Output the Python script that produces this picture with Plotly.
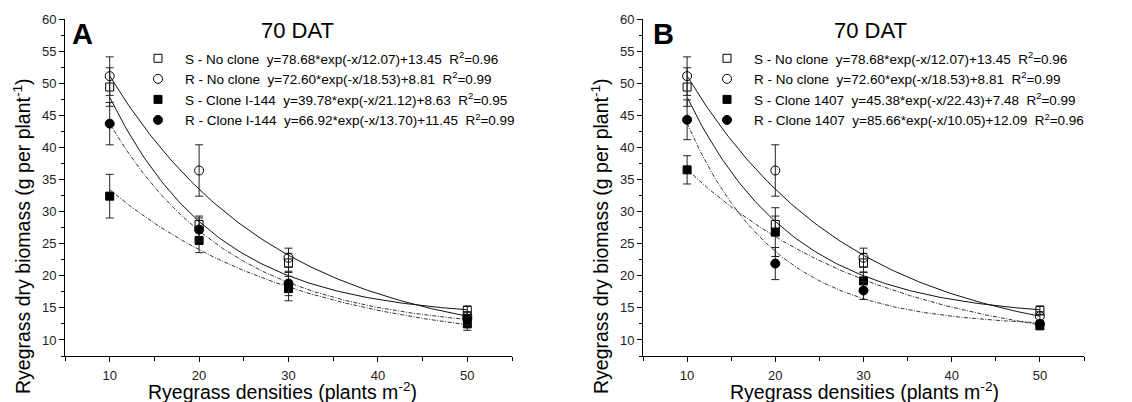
import numpy as np
import plotly.graph_objects as go

# ---------------- data ----------------
density = [10, 20, 30, 50]

# Panel A
a_names = ["S - No clone", "R - No clone", "S - Clone I-144", "R - Clone I-144"]
a_eq = ["y=78.68*exp(-x/12.07)+13.45", "y=72.60*exp(-x/18.53)+8.81",
        "y=39.78*exp(-x/21.12)+8.63", "y=66.92*exp(-x/13.70)+11.45"]
a_r2 = ["0.96", "0.99", "0.95", "0.99"]
a_A = [78.68, 72.60, 39.78, 66.92]
a_t = [12.07, 18.53, 21.12, 13.70]
a_y0 = [13.45, 8.81, 8.63, 11.45]
a_S_no = [49.4, 28.0, 22.0, 14.6]
a_R_no = [51.1, 36.4, 22.8, 13.7]
a_S_cl = [32.4, 25.5, 18.0, 12.5]
a_R_cl = [43.7, 27.2, 18.8, 13.3]
a_S_no_err = [3.0, 1.3, 1.5, 0.7]
a_R_no_err = [3.0, 4.0, 1.5, 0.7]
a_S_cl_err = [3.4, 1.9, 1.9, 1.0]
a_R_cl_err = [3.3, 1.8, 1.9, 1.0]

# Panel B
b_names = ["S - No clone", "R - No clone", "S - Clone 1407", "R - Clone 1407"]
b_eq = ["y=78.68*exp(-x/12.07)+13.45", "y=72.60*exp(-x/18.53)+8.81",
        "y=45.38*exp(-x/22.43)+7.48", "y=85.66*exp(-x/10.05)+12.09"]
b_r2 = ["0.96", "0.99", "0.99", "0.96"]
b_A = [78.68, 72.60, 45.38, 85.66]
b_t = [12.07, 18.53, 22.43, 10.05]
b_y0 = [13.45, 8.81, 7.48, 12.09]
b_S_no = [49.4, 28.0, 22.0, 14.6]
b_R_no = [51.1, 36.4, 22.8, 13.7]
b_S_cl = [36.5, 26.8, 19.2, 12.2]
b_R_cl = [44.3, 21.9, 17.7, 12.5]
b_S_no_err = [3.0, 1.3, 1.5, 0.7]
b_R_no_err = [3.0, 4.0, 1.5, 0.7]
b_S_cl_err = [2.2, 3.8, 1.4, 0.5]
b_R_cl_err = [3.1, 2.5, 1.4, 0.5]

FONT = "Arial, Liberation Sans, sans-serif"
OFF = 8                     # default page body margin
W, H = 1132 - OFF, 402 - OFF
TOP, BOT = 19, 356          # plot area in reference pixels


def xp(px):
    return (px - OFF) / W


def yp(py):
    return (BOT - py) / (BOT - TOP)


fig = go.Figure()

symbols = ["square-open", "circle-open", "square", "circle"]
sizes = [8, 9, 8, 9]
line_dash = ["solid", "solid", "4px,1.5px,1px,1.5px", "4px,1.5px,1px,1.5px"]
line_col = ["#111", "#111", "#333", "#333"]

xfit = np.linspace(10, 50, 120)


def add_panel(xa, ya, leg, names, eqs, r2s, amps, taus, offs, ys, errs):
    # fitted curves (from the equations shown in the legend)
    for i in range(4):
        yfit = amps[i] * np.exp(-xfit / taus[i]) + offs[i]
        fig.add_trace(go.Scatter(x=xfit, y=yfit, mode="lines", xaxis=xa, yaxis=ya,
                                 line=dict(color=line_col[i], width=1, dash=line_dash[i]),
                                 showlegend=False, hoverinfo="skip"))
    for i in range(4):
        label = f"{names[i]}\u00a0\u00a0{eqs[i]}\u00a0\u00a0R<sup>2</sup>={r2s[i]}"
        fig.add_trace(go.Scatter(
            x=density, y=ys[i], mode="markers", xaxis=xa, yaxis=ya, legend=leg,
            name=label,
            marker=dict(symbol=symbols[i], size=sizes[i], color="black",
                        line=dict(color="black", width=1)),
            error_y=dict(type="data", array=errs[i], color="#222", thickness=1, width=4),
        ))


add_panel("x", "y", "legend", a_names, a_eq, a_r2, a_A, a_t, a_y0,
          [a_S_no, a_R_no, a_S_cl, a_R_cl], [a_S_no_err, a_R_no_err, a_S_cl_err, a_R_cl_err])
add_panel("x2", "y2", "legend2", b_names, b_eq, b_r2, b_A, b_t, b_y0,
          [b_S_no, b_R_no, b_S_cl, b_R_cl], [b_S_no_err, b_R_no_err, b_S_cl_err, b_R_cl_err])

ax_common = dict(showline=True, linecolor="black", linewidth=1, ticks="outside",
                 ticklen=5, tickwidth=1, tickcolor="black", showgrid=False, zeroline=False,
                 tickfont=dict(family=FONT, size=13, color="#222"), mirror=False)

xcommon = dict(ax_common, range=[5, 55], tick0=10, dtick=10, ticklabelstandoff=2,
               minor=dict(ticks="outside", ticklen=4, tick0=5, dtick=5, tickcolor="black", showgrid=False))
ycommon = dict(ax_common, range=[7.5, 60], tick0=10, dtick=5,
               minor=dict(ticks="outside", ticklen=3, dtick=2.5, tickcolor="black", showgrid=False))

leg_common = dict(xanchor="left", yanchor="top", bgcolor="rgba(0,0,0,0)",
                  font=dict(family=FONT, size=13.5, color="black"),
                  tracegroupgap=0, itemclick=False, itemwidth=44)

fig.update_layout(
    width=W, height=H,
    margin=dict(l=0, r=0, t=TOP - OFF, b=(H + OFF) - BOT),
    paper_bgcolor="white", plot_bgcolor="white",
    font=dict(family=FONT, color="black"),
    xaxis=dict(xcommon, domain=[xp(65), xp(512)], anchor="y"),
    yaxis=dict(ycommon, domain=[0, 1], anchor="x"),
    xaxis2=dict(xcommon, domain=[xp(643), xp(1084)], anchor="y2"),
    yaxis2=dict(ycommon, domain=[0, 1], anchor="x2"),
    legend=dict(leg_common, x=xp(131), y=yp(43)),
    legend2=dict(leg_common, x=xp(700), y=yp(43)),
    showlegend=True,
)

ann = []
for cx_title, cx_ylab, cx_xlab, cx_letter, letter in [(297, 22, 282, 83, "A"), (870, 600, 864, 663, "B")]:
    ann.append(dict(text="70 DAT", x=xp(cx_title), y=yp(30), xref="paper", yref="paper",
                    xanchor="center", yanchor="middle", showarrow=False,
                    font=dict(family=FONT, size=22, color="black")))
    ann.append(dict(text=f"<b>{letter}</b>", x=xp(cx_letter), y=yp(34), xref="paper", yref="paper",
                    xanchor="center", yanchor="middle", showarrow=False,
                    font=dict(family=FONT, size=29, color="black")))
    ann.append(dict(text="Ryegrass dry biomass (g per plant<sup>-1</sup>)", x=xp(cx_ylab), y=yp(236),
                    xref="paper", yref="paper", xanchor="center", yanchor="middle", showarrow=False,
                    textangle=-90, font=dict(family=FONT, size=19.5, color="black")))
    ann.append(dict(text="Ryegrass densities (plants m<sup>-2</sup>)", x=xp(cx_xlab), y=yp(391),
                    xref="paper", yref="paper", xanchor="center", yanchor="middle", showarrow=False,
                    font=dict(family=FONT, size=19.5, color="black")))
fig.update_layout(annotations=ann)

fig.write_html("out.html")
